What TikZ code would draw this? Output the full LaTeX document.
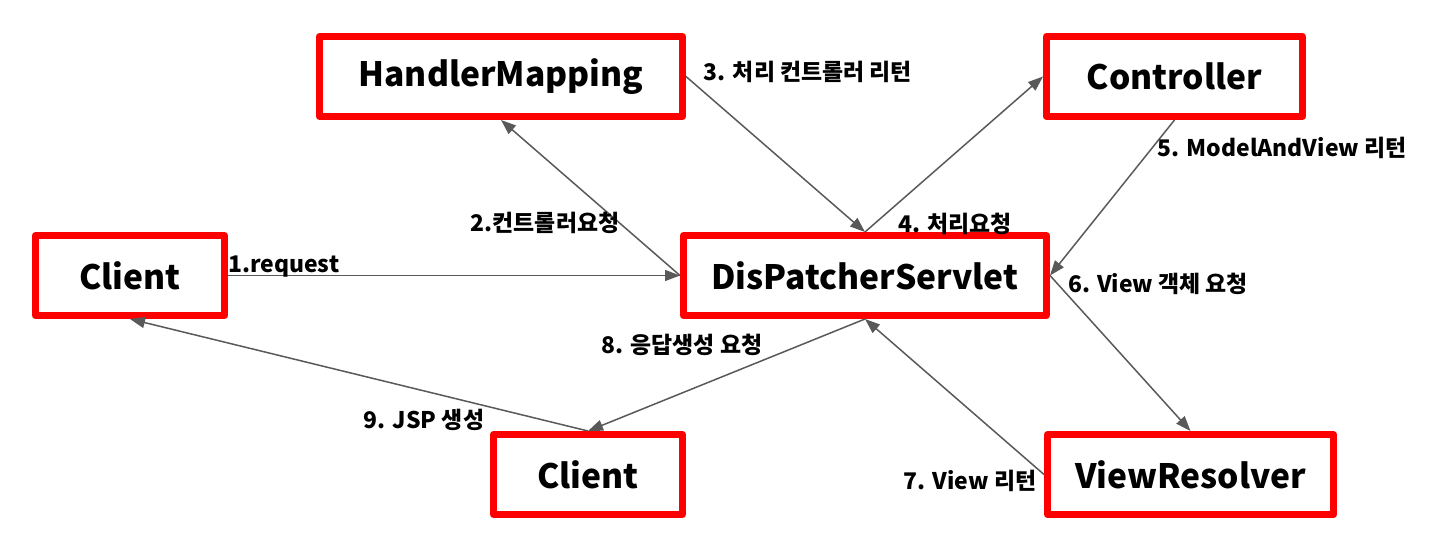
\documentclass[tikz,border=0pt]{standalone}
\usepackage{fontspec}
\setmainfont{Noto Sans CJK KR}
\usetikzlibrary{arrows.meta}
\definecolor{arrgray}{HTML}{595959}
\begin{document}
\begin{tikzpicture}[x=1bp,y=-1bp,
  box/.style={draw=red, line width=7bp, line join=round, fill=white,
    minimum height=80bp, inner sep=0pt,
    font=\fontsize{33.7}{40}\selectfont\bfseries},
  arr/.style={draw=arrgray, line width=1.5bp,
    -{Triangle[length=15bp,width=11bp]}},
  lbl/.style={inner sep=0pt, font=\fontsize{23}{26}\selectfont\bfseries}]
\useasboundingbox (0,0) rectangle (1443,551);
\node[box, minimum width=363bp] (hm)  at (501,76.5)   {HandlerMapping};
\node[box, minimum width=256bp] (ctl) at (1174.5,76.5) {Controller};
\node[box, minimum width=189bp] (cl1) at (130,275.5)  {Client};
\node[box, minimum width=363bp] (ds)  at (865,275.5)  {DisPatcherServlet};
\node[box, minimum width=189bp] (cl2) at (588,474.5)  {Client};
\node[box, minimum width=286bp] (vr)  at (1190.5,474.5) {ViewResolver};

\draw[arr] (cl1.east) -- (ds.west);
\draw[arr] (ds.west) -- (hm.south);
\draw[arr] (hm.east) -- (ds.north);
\draw[arr] (ds.north) -- (ctl.west);
\draw[arr] (ctl.south) -- (ds.east);
\draw[arr] (ds.east) -- (vr.north);
\draw[arr] (vr.west) -- (ds.south);
\draw[arr] (ds.south) -- (cl2.north);
\draw[arr] (cl2.north) -- (cl1.south);

\node[lbl, anchor=base west] (l1) at (228,273) {1.request};
\node[lbl] (l2) at (545,223) {2.컨트롤러요청};
\node[lbl] (l3) at (808,72) {3. 처리 컨트롤러 리턴};
\node[lbl] (l4) at (955,224) {4. 처리요청};
\node[lbl] (l5) at (1282,148) {5. ModelAndView 리턴};
\node[lbl] (l6) at (1158,284) {6. View 객체 요청};
\node[lbl] (l7) at (970,481) {7. View 리턴};
\node[lbl] (l8) at (682,345) {8. 응답생성 요청};
\node[lbl] (l9) at (424,420) {9. JSP 생성};
\end{tikzpicture}
\end{document}
